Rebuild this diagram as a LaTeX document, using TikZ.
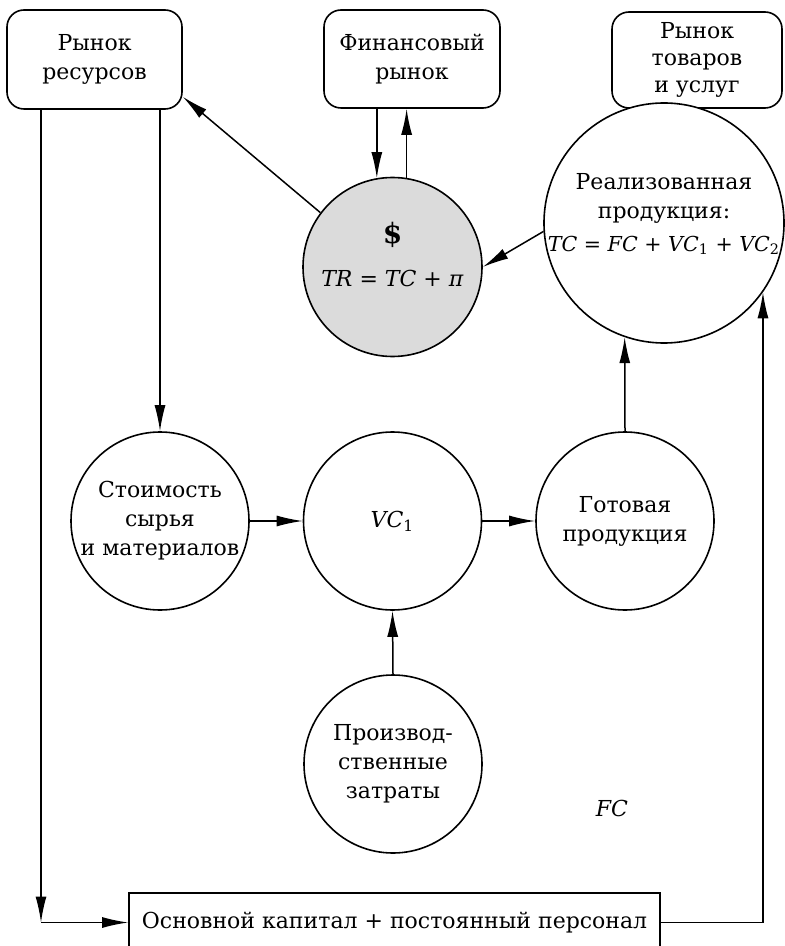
\documentclass[tikz,border=0pt]{standalone}
\usepackage{fontspec}
\setmainfont{DejaVu Serif}
\usetikzlibrary{arrows.meta,calc}
\begin{document}
\begin{tikzpicture}[x=0.5pt,y=-0.5pt,
  every node/.style={font=\fontsize{11}{14.5}\selectfont, align=center, inner sep=0pt},
  rbox/.style={draw, line width=0.8pt, rounded corners=8.5pt},
  circ/.style={draw, circle, line width=0.8pt},
  arr/.style={-{Latex[length=13pt,width=5.5pt]}, line width=0.75pt},
  lbl/.style={}
]
\useasboundingbox (0,0) rectangle (784,946);

% boxes
\node[rbox, minimum width=87.5pt, minimum height=49.5pt] (res) at (94.5,59.5) {Рынок\\ресурсов};
\node[rbox, minimum width=88pt, minimum height=49pt] (fin) at (412,59) {Финансовый\\рынок};
\node[rbox, minimum width=85pt, minimum height=48pt, font=\fontsize{11}{13.5}\selectfont] (goods) at (697,60) {Рынок\\товаров\\и услуг};

% circles
\node[circ, fill=white, minimum size=120pt] (big) at (664,223) {};
\node[lbl] (bigtxt) at (664,214) {Реализованная\\продукция:\\[2pt]{\fontsize{10.3}{12}\selectfont\textit{TC} = \textit{FC} + \textit{VC}\textsubscript{1} + \textit{VC}\textsubscript{2}}};

\node[circ, fill=gray!28, minimum size=89.5pt] (dollar) at (392.5,267) {};
\node[lbl] (dtxt) at (392.5,255) {{\fontsize{14}{14}\selectfont\textbf{\$}}\\[7pt]\textit{TR} = \textit{TC} + \textit{π}};

\node[circ, minimum size=89pt] (cost) at (160,521) {Стоимость\\сырья\\и материалов};
\node[circ, minimum size=89pt] (vc) at (392.5,521) {\textit{VC}\textsubscript{1}};
\node[circ, minimum size=89pt] (ready) at (625,521) {Готовая\\продукция};
\node[circ, minimum size=89pt] (prod) at (393,764) {Производ-\\ственные\\затраты};

\node[lbl] (fc) at (612,808) {\textit{FC}};

\node[draw, line width=0.8pt, minimum width=265.5pt, minimum height=29.5pt] (cap) at (394.5,922.5) {Основной капитал + постоянный персонал};

% connectors
\coordinate (c1) at (41,922.5);
\draw[arr] (res.south -| c1) -- (c1);
\draw[arr] (c1) -- (cap.west);
\draw[arr] (res.south -| cost.north) -- (cost.north);
\draw[arr] (dollar.143) -- ($(res.south east)+(0,-13)$);
\draw[arr] (fin.south -| dollar.100) -- (dollar.100);
\draw[arr] (dollar.81) -- (fin.south -| dollar.81);
\draw[arr] (big.184) -- (dollar.east);
\draw[arr] (cost.east) -- (vc.west);
\draw[arr] (vc.east) -- (ready.west);
\draw[arr] (ready.north) -- (big.-109);
\draw[arr] (prod.north) -- (vc.south);
\draw[arr] (cap.east) -| (big.-35);
\end{tikzpicture}
\end{document}
